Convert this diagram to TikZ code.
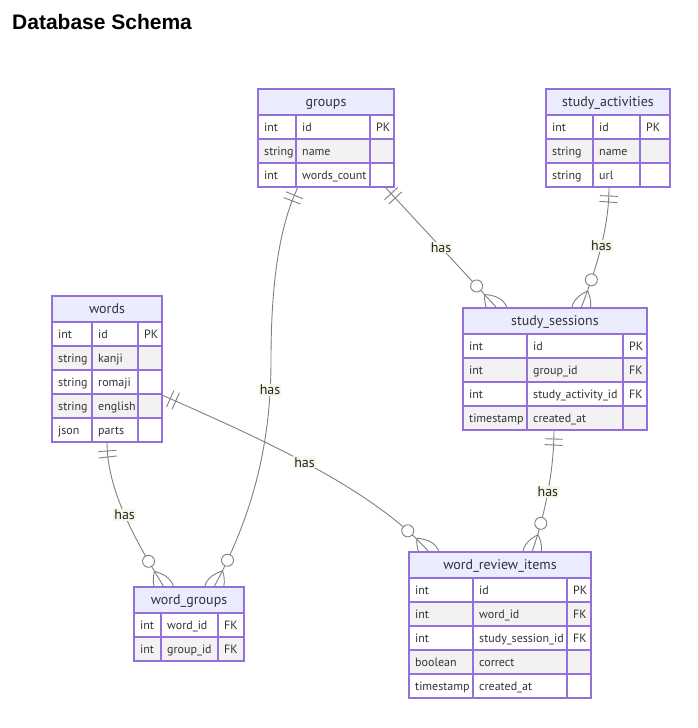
\documentclass[tikz,border=0pt]{standalone}
\usepackage{fontspec}
\setmainfont{PT Sans}
\newfontfamily\titlefont{Liberation Sans}
\usetikzlibrary{decorations.markings,calc}
\definecolor{erpurple}{HTML}{9370DB}
\definecolor{erhead}{HTML}{ECECFF}
\definecolor{erodd}{HTML}{F2F2F2}
\definecolor{ertext}{HTML}{333333}
\definecolor{erconn}{HTML}{808080}
\definecolor{erlabel}{HTML}{F5F8E8}
\pgfdeclarelayer{paper}
\pgfdeclarelayer{bg}
\pgfsetlayers{paper,bg,main}
\tikzset{
  erline/.style={draw=erpurple, line width=1.2pt},
  celltext/.style={anchor=base west, inner sep=0pt, text=ertext, font=\fontsize{12}{14}\selectfont},
  hdrtext/.style={anchor=base, inner sep=0pt, text=ertext, font=\fontsize{14}{16}\selectfont},
  conn/.style={draw=erconn, line width=0.9pt},
  haslabel/.style={fill=erlabel, inner sep=1pt, text=black!85, font=\fontsize{14}{16}\selectfont},
  startone/.style={postaction={decorate, decoration={markings,
      mark=at position 9pt with {\draw[conn] (0pt,-9pt) -- (0pt,9pt);},
      mark=at position 15pt with {\draw[conn] (0pt,-9pt) -- (0pt,9pt);}}}},
  endmany/.style={postaction={decorate, decoration={markings,
      mark=at position -30pt with {\draw[conn, fill=white] (0pt,0pt) circle[radius=6pt];},
      mark=at position -0.3pt with {\draw[conn] (-18pt,0pt) .. controls (-6pt,-12pt) and (6pt,-12pt) .. (18pt,0pt)
          .. controls (6pt,12pt) and (-6pt,12pt) .. (-18pt,0pt);}}}},
}
% #1 name, #2 left, #3 col1, #4 col2, #5 right, #6 top, #7 title, #8 number of rows, #9 rows
\newcommand\ertable[9]{%
  \node[inner sep=0pt, outer sep=0pt, minimum width={(#5-#2)*1pt}, minimum height={(26+#8*24)*1pt}, anchor=north west] (#1) at (#2,#6) {};
  \fill[fill=erhead] (#2,#6) rectangle (#5,{#6+26});
  \node[hdrtext] (#1-title) at ({(#2+#5)/2},{#6+17}) {#7};
  \foreach \ta/\tb/\tc [count=\i] in {#9} {
    \pgfmathsetmacro\ry{#6+26+(\i-1)*24}
    \pgfmathtruncatemacro\rowpar{mod(\i,2)}
    \ifnum\rowpar=0 \def\rc{erodd}\else\def\rc{white}\fi
    \fill[fill=\rc] (#2,\ry) rectangle (#5,{\ry+24});
    \draw[erline] (#2,\ry) -- (#5,\ry);
    \node[celltext] (#1-a\i) at ({#2+6},{\ry+16}) {\ta};
    \node[celltext] (#1-b\i) at ({#3+6},{\ry+16}) {\tb};
    \node[celltext] (#1-c\i) at ({#4+6},{\ry+16}) {\tc};
  }
  \draw[erline] (#3,{#6+26}) -- (#3,{#6+26+#8*24});
  \draw[erline] (#4,{#6+26}) -- (#4,{#6+26+#8*24});
  \draw[erline] (#2,#6) rectangle (#5,{#6+26+#8*24});
}
\begin{document}
\begin{tikzpicture}[x=1pt, y=-1pt]
\begin{pgfonlayer}{paper}
\fill[white] (0,0) rectangle (698,728);
\end{pgfonlayer}
\useasboundingbox (0,0) rectangle (698,728);
\node[anchor=base west, inner sep=0pt, font=\titlefont\bfseries\fontsize{21}{24}\selectfont] (title) at (12,29) {Database Schema};

\ertable{groups}{258}{296}{370}{394}{89}{groups}{3}{int/id/PK, string/name/, int/words\_count/}
\ertable{studyact}{546}{593}{640}{670}{89}{study\_activities}{3}{int/id/PK, string/name/, string/url/}
\ertable{words}{52}{92}{138}{162}{296}{words}{5}{int/id/PK, string/kanji/, string/romaji/, string/english/, json/parts/}
\ertable{sessions}{463}{527}{623}{647}{308}{study\_sessions}{4}{int/id/PK, int/group\_id/FK, int/study\_activity\_id/FK, timestamp/created\_at/}
\ertable{wordgroups}{134}{161}{218}{244}{587}{word\_groups}{2}{int/word\_id/FK, int/group\_id/FK}
\ertable{review}{409}{473}{567}{591}{552}{word\_review\_items}{5}{int/id/PK, int/word\_id/FK, int/study\_session\_id/FK, boolean/correct/, timestamp/created\_at/}

\begin{pgfonlayer}{bg}
\coordinate (bend3) at (271,360);
\draw[conn, startone, endmany] ($(groups.south west)+(127,0)$) -- node[haslabel, pos=0.5] (l1) {has} ($(sessions.north west)+(34,0)$);
\draw[conn, startone, endmany] ($(studyact.south west)+(63,0)$) .. controls +(0,38) and +(17,-43) .. node[haslabel, pos=0.5] (l2) {has} ($(sessions.north west)+(118,0)$);
\draw[conn, startone, endmany] ($(groups.south west)+(40,0)$) .. controls +(-18,38) and +(0,-80) .. (bend3) .. controls +(0,90) and +(36,-67) .. ($(wordgroups.north west)+(80,0)$);
\node[haslabel] (l3) at (270,390) {has};
\draw[conn, startone, endmany] ($(words.south west)+(55,0)$) .. controls +(0,48) and +(-29,-47) .. node[haslabel, pos=0.5] (l4) {has} ($(wordgroups.north west)+(30,0)$);
\draw[conn, startone, endmany] ($(words.north east)+(0,99)$) .. controls +(83,37) and +(-59,-67) .. node[haslabel, pos=0.5] (l5) {has} ($(review.north west)+(20,0)$);
\draw[conn, startone, endmany] ($(sessions.south west)+(91,0)$) .. controls +(0,40) and +(13,-37) .. node[haslabel, pos=0.5] (l6) {has} ($(review.north west)+(123,0)$);
\end{pgfonlayer}
\end{tikzpicture}
\end{document}
